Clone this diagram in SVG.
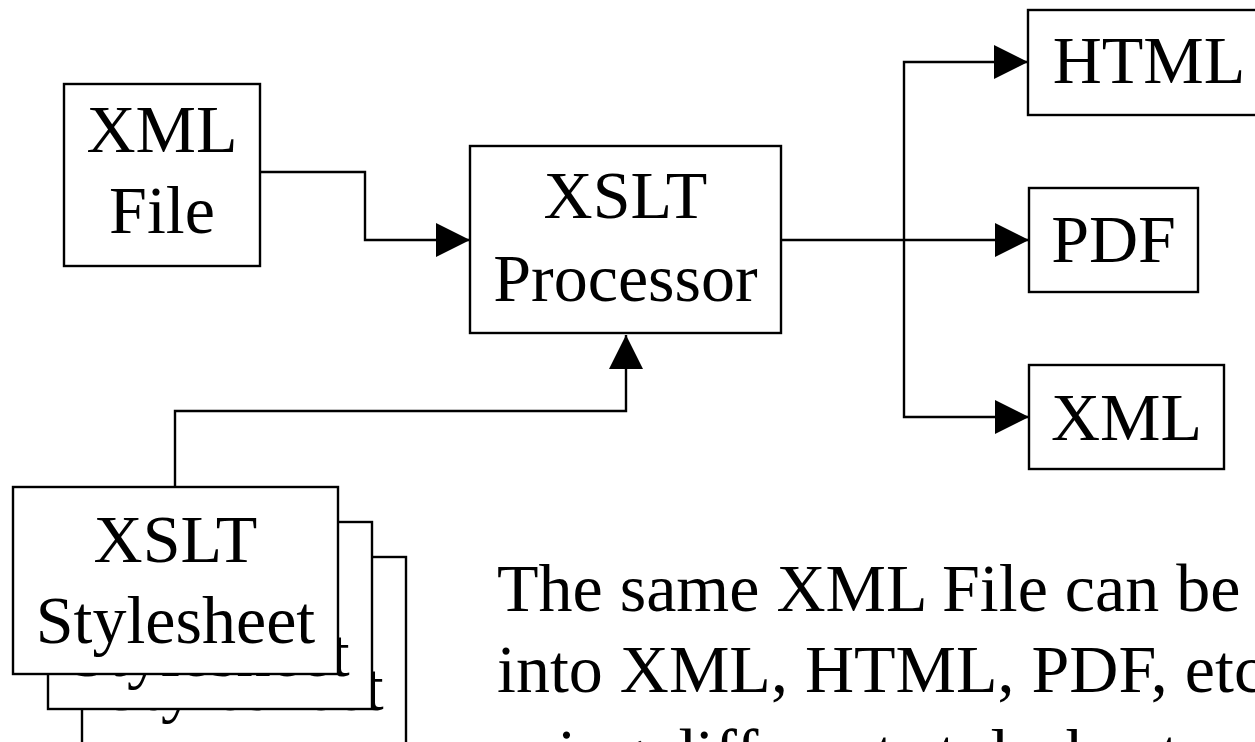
<svg xmlns="http://www.w3.org/2000/svg" width="1255" height="742" viewBox="0 0 1255 742">
<style>
.box{fill:#fff;stroke:#000;stroke-width:2.4}
.t{font-family:"Liberation Serif","Times New Roman",serif;font-size:68px;fill:#000;text-anchor:middle}
.tl{font-family:"Liberation Serif","Times New Roman",serif;font-size:68px;fill:#000}
.c{fill:none;stroke:#000;stroke-width:2.4}
</style>
<defs>
<marker id="arr" viewBox="0 0 34 34" refX="34" refY="17" markerWidth="34" markerHeight="34" markerUnits="userSpaceOnUse" orient="auto">
<path d="M0,0 L34,17 L0,34 Z" fill="#000"/>
</marker>
</defs>
<rect width="1255" height="742" fill="#fff"/>
<g id="connectors">
<path class="c" d="M260,172 H365 V240 H470" marker-end="url(#arr)"/>
<path class="c" d="M175,487 V411 H626 V335" marker-end="url(#arr)"/>
<path class="c" d="M781,240 H1029" marker-end="url(#arr)"/>
<path class="c" d="M904,240 V62 H1028" marker-end="url(#arr)"/>
<path class="c" d="M904,240 V417 H1029" marker-end="url(#arr)"/>
</g>
<g id="xmlfile">
<rect class="box" x="64" y="84" width="196" height="182"/>
<text class="t" x="162" y="152">XML</text>
<text class="t" x="162" y="233">File</text>
</g>
<g id="processor">
<rect class="box" x="470" y="146" width="311" height="187"/>
<text class="t" x="625.5" y="218">XSLT</text>
<text class="t" x="625.5" y="301">Processor</text>
</g>
<g id="html">
<rect class="box" x="1028" y="10" width="245" height="105"/>
<text class="t" x="1149" y="83">HTML</text>
</g>
<g id="pdf">
<rect class="box" x="1029" y="188" width="169" height="104"/>
<text class="t" x="1113.5" y="262">PDF</text>
</g>
<g id="xmlout">
<rect class="box" x="1029" y="365" width="195" height="104"/>
<text class="t" x="1126.5" y="440">XML</text>
</g>
<g id="stylesheet3">
<rect class="box" x="82" y="557" width="324" height="190"/>
<text class="t" x="244" y="710">Stylesheet</text>
</g>
<g id="stylesheet2">
<rect class="box" x="48" y="522" width="324" height="187"/>
<text class="t" x="210" y="676">Stylesheet</text>
</g>
<g id="stylesheet1">
<rect class="box" x="13" y="487" width="325" height="187"/>
<text class="t" x="175.5" y="562">XSLT</text>
<text class="t" x="175.5" y="643">Stylesheet</text>
</g>
<g id="caption">
<text class="tl" x="497" y="611">The same XML File can be</text>
<text class="tl" x="497" y="692">into XML, HTML, PDF, etc.</text>
<text class="tl" x="497" y="776">using different stylesheets</text>
</g>
</svg>
